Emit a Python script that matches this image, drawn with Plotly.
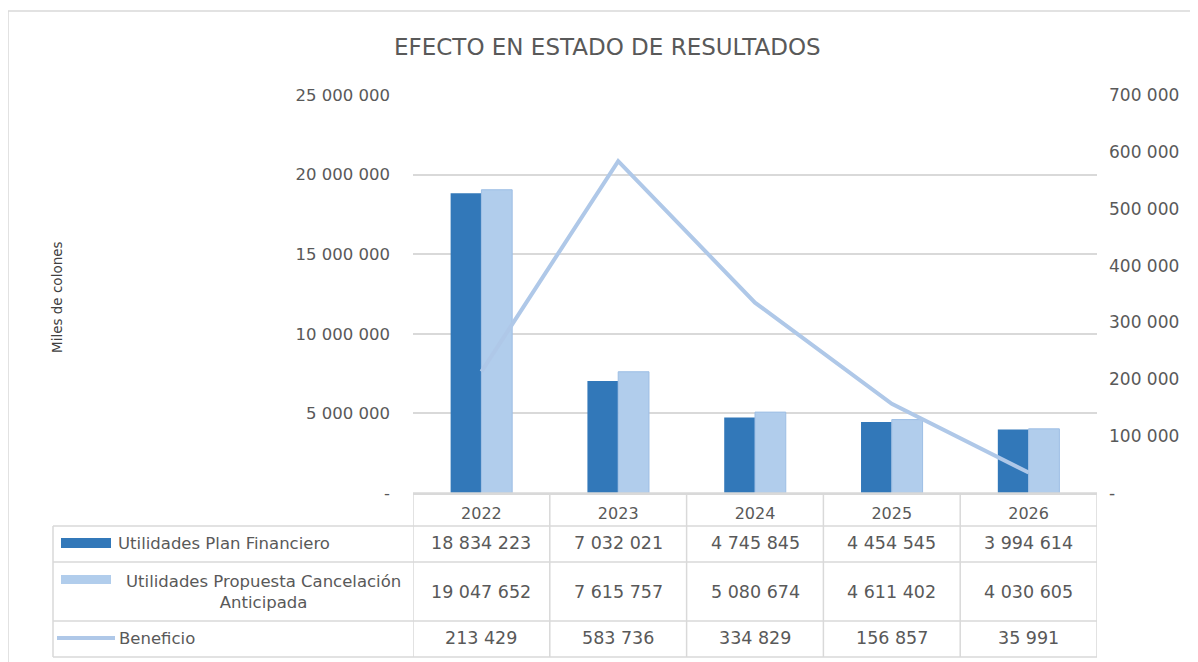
import plotly.graph_objects as go

years = ["2022", "2023", "2024", "2025", "2026"]
plan_financiero = [18834223, 7032021, 4745845, 4454545, 3994614]
propuesta_cancelacion = [19047652, 7615757, 5080674, 4611402, 4030605]
beneficio = [213429, 583736, 334829, 156857, 35991]

series_names = ["Utilidades Plan Financiero",
                "Utilidades Propuesta Cancelación<br>Anticipada",
                "Beneficio"]
title_text = "EFECTO EN ESTADO DE RESULTADOS"
y_title = "Miles de colones"

left_ticks = [0, 5000000, 10000000, 15000000, 20000000, 25000000]
right_ticks = [0, 100000, 200000, 300000, 400000, 500000, 600000, 700000]

DARK = "#3278B9"
LIGHT = "#B1CDEC"
LINE = "#AFC8E8"
GRID = "#D9D9D9"
TXT = "#595959"
FONT = "DejaVu Sans"

OFF = 8  # page body margin
W, H = 1198 - OFF, 662 - OFF
PL, PR, PT, PB = 413, 1097, 95, 493  # in window pixels


def fx(px):
    return (px - PL) / (PR - PL)


def fy(py):
    return (PB - py) / (PB - PT)


def fmt(v):
    return "-" if v == 0 else f"{v:,}".replace(",", " ")


fig = go.Figure()
fig.add_trace(go.Bar(x=years, y=plan_financiero, name="Utilidades Plan Financiero",
                     marker=dict(color=DARK, line=dict(width=0))))
fig.add_trace(go.Bar(x=years, y=propuesta_cancelacion, name="Utilidades Propuesta Cancelación Anticipada",
                     marker=dict(color=LIGHT, line=dict(color="#9DBEE4", width=1))))
fig.add_trace(go.Scatter(x=years, y=beneficio, name="Beneficio", yaxis="y2", mode="lines",
                         line=dict(color=LINE, width=4)))

shapes = []
annotations = []

# outer frame
shapes.append(dict(type="rect", xref="paper", yref="paper", x0=fx(8), x1=fx(1205),
                   y0=fy(11), y1=fy(672), line=dict(color=GRID, width=1.5), layer="below"))

# table grid
row_lines = [493, 526, 562, 621, 657]
for i, py in enumerate(row_lines):
    x0 = fx(53) if i > 0 else 0
    shapes.append(dict(type="line", xref="paper", yref="paper", x0=x0, x1=1,
                       y0=fy(py), y1=fy(py), line=dict(color=GRID, width=1.5)))
shapes.append(dict(type="line", xref="paper", yref="paper", x0=fx(53), x1=fx(53),
                   y0=fy(526), y1=fy(657), line=dict(color=GRID, width=1.5)))
for k in range(len(years) + 1):
    shapes.append(dict(type="line", xref="x", yref="paper", x0=k - 0.5, x1=k - 0.5,
                       y0=fy(493), y1=fy(657), line=dict(color=GRID, width=1.5)))

# legend keys in table
shapes.append(dict(type="rect", xref="paper", yref="paper", x0=fx(61), x1=fx(111),
                   y0=fy(538), y1=fy(548), fillcolor=DARK, line=dict(width=0)))
shapes.append(dict(type="rect", xref="paper", yref="paper", x0=fx(61), x1=fx(111),
                   y0=fy(575), y1=fy(584), fillcolor=LIGHT, line=dict(width=0)))
shapes.append(dict(type="line", xref="paper", yref="paper", x0=fx(57), x1=fx(115),
                   y0=fy(638), y1=fy(638), line=dict(color=LINE, width=4)))

# row labels
LBL = 16.5
annotations.append(dict(text=series_names[0], xref="paper", yref="paper", x=fx(116), y=fy(543),
                        xanchor="left", yanchor="middle", showarrow=False,
                        font=dict(family=FONT, size=LBL, color=TXT)))
annotations.append(dict(text=series_names[1], xref="paper", yref="paper", x=fx(263), y=fy(592),
                        xanchor="center", yanchor="middle", align="center", showarrow=False,
                        font=dict(family=FONT, size=LBL, color=TXT)))
annotations.append(dict(text=series_names[2], xref="paper", yref="paper", x=fx(117), y=fy(638),
                        xanchor="left", yanchor="middle", showarrow=False,
                        font=dict(family=FONT, size=LBL, color=TXT)))

# values
row_centers = [543, 592, 638]
for vals, py in zip([plan_financiero, propuesta_cancelacion, beneficio], row_centers):
    for i, v in enumerate(vals):
        annotations.append(dict(text=fmt(v), xref="x", yref="paper", x=i, y=fy(py),
                                xanchor="center", yanchor="middle", showarrow=False,
                                font=dict(family=FONT, size=17.5, color=TXT)))

# title
annotations.append(dict(text=title_text, xref="paper", yref="paper", x=fx(607), y=fy(47),
                        xanchor="center", yanchor="middle", showarrow=False,
                        font=dict(family=FONT, size=23, color=TXT)))
# y title
annotations.append(dict(text=y_title, xref="paper", yref="paper", x=fx(57), y=fy(297),
                        xanchor="center", yanchor="middle", textangle=-90, showarrow=False,
                        font=dict(family=FONT, size=13.5, color="#404040")))

fig.update_layout(
    width=W, height=H,
    margin=dict(l=PL - OFF, r=W - (PR - OFF), t=PT - OFF, b=H - (PB - OFF), pad=0),
    paper_bgcolor="white", plot_bgcolor="white",
    barmode="group", bargap=0.55, bargroupgap=0.0,
    showlegend=False,
    shapes=shapes, annotations=annotations,
    xaxis=dict(type="category", range=[-0.5, 4.5], showgrid=False, showline=True,
               linecolor=GRID, linewidth=1.5, ticks="", ticklabelstandoff=5,
               tickfont=dict(family=FONT, size=16, color=TXT)),
    yaxis=dict(range=[0, 25000000], tickvals=left_ticks, ticktext=[fmt(v) for v in left_ticks],
               showgrid=True, gridcolor=GRID, gridwidth=1.5, zeroline=False, showline=False,
               ticklabelstandoff=22, tickfont=dict(family=FONT, size=16.5, color=TXT)),
    yaxis2=dict(range=[0, 700000], tickvals=right_ticks, ticktext=[fmt(v) for v in right_ticks],
                overlaying="y", side="right", showgrid=False, zeroline=False, showline=False,
                ticklabelstandoff=11, tickfont=dict(family=FONT, size=17, color=TXT)),
)

fig.write_html("out.html")
